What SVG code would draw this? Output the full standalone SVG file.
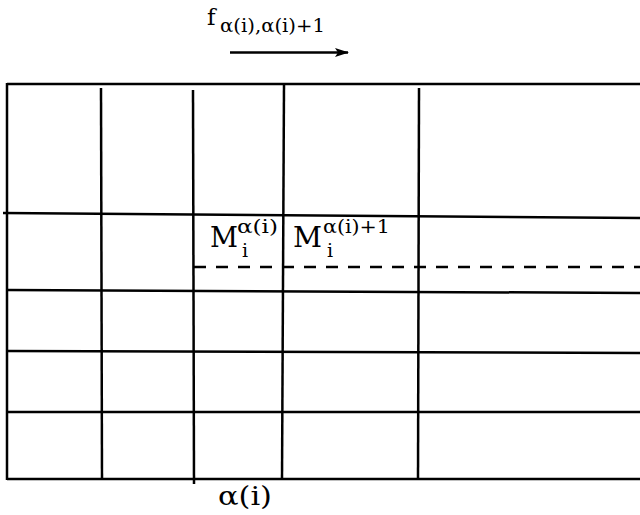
<svg xmlns="http://www.w3.org/2000/svg" width="640" height="515" viewBox="0 0 640 515">
<style>
.ln{stroke:#000;stroke-width:2.5;fill:none;stroke-linecap:butt}
.ds{stroke:#000;stroke-width:2.5;fill:none;stroke-dasharray:12 10}
.t{font-family:"DejaVu Serif","Liberation Serif",serif;fill:#000}
</style>
<defs>
<marker id="ah" viewBox="0 0 14 10" refX="13" refY="5" markerWidth="14" markerHeight="10" orient="auto" markerUnits="userSpaceOnUse">
<path d="M0,0.5 L14,5 L0,9.5 L3,5 Z" fill="#000"/>
</marker>
</defs>
<rect width="640" height="515" fill="#fff"/>
<g id="grid">
<line class="ln" x1="7" y1="84" x2="640" y2="84"/>
<line class="ln" x1="7" y1="479" x2="640" y2="479"/>
<line class="ln" x1="7" y1="83" x2="7" y2="480"/>
<line class="ln" x1="101" y1="88" x2="102" y2="480"/>
<line class="ln" x1="193" y1="90" x2="194" y2="484"/>
<line class="ln" x1="284" y1="84" x2="282" y2="480"/>
<line class="ln" x1="419" y1="88" x2="418" y2="480"/>
<line class="ln" x1="3" y1="213" x2="640" y2="218"/>
<line class="ln" x1="7" y1="290" x2="640" y2="293"/>
<line class="ln" x1="7" y1="351" x2="640" y2="353"/>
<line class="ln" x1="7" y1="412" x2="640" y2="412"/>
<line class="ds" x1="194" y1="267" x2="640" y2="267"/>
</g>
<g id="connectors">
<line x1="230" y1="52.5" x2="348" y2="52.5" stroke="#000" stroke-width="2.5" marker-end="url(#ah)"/>
</g>
<g id="label-f">
<text class="t" x="207" y="25" font-size="23">f</text>
<text class="t" x="220" y="32" font-size="19" textLength="105" lengthAdjust="spacingAndGlyphs">α(i),α(i)+1</text>
</g>
<g id="label-M1">
<text class="t" x="210" y="247" font-size="27" textLength="28" lengthAdjust="spacingAndGlyphs">M</text>
<text class="t" x="237" y="233" font-size="19" textLength="41" lengthAdjust="spacingAndGlyphs">α(i)</text>
<text class="t" x="242" y="257" font-size="19">i</text>
</g>
<g id="label-M2">
<text class="t" x="293" y="247" font-size="27" textLength="29" lengthAdjust="spacingAndGlyphs">M</text>
<text class="t" x="323" y="233" font-size="19" textLength="67" lengthAdjust="spacingAndGlyphs">α(i)+1</text>
<text class="t" x="327" y="257" font-size="19">i</text>
</g>
<g id="label-alpha">
<text class="t" x="218" y="505" font-size="26" textLength="54" lengthAdjust="spacingAndGlyphs">α(i)</text>
</g>
</svg>
